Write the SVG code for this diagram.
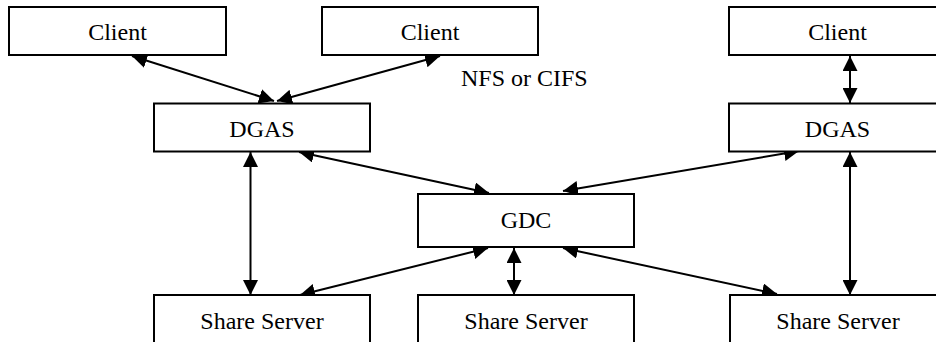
<svg xmlns="http://www.w3.org/2000/svg" width="936" height="342" viewBox="0 0 936 342">
  <style>
    .box { fill: #fff; stroke: #000; stroke-width: 2; }
    .lbl { font-family: "Liberation Serif", "Times New Roman", serif; font-size: 24px; fill: #000; text-anchor: middle; }
    .note { font-family: "Liberation Serif", "Times New Roman", serif; font-size: 24px; fill: #000; }
    .link { stroke: #000; stroke-width: 2; fill: none; marker-start: url(#head); marker-end: url(#head); }
  </style>
  <defs>
    <marker id="head" markerUnits="userSpaceOnUse" markerWidth="15" markerHeight="15" viewBox="0 0 15 15" refX="15" refY="7.5" orient="auto-start-reverse">
      <path d="M0,0 L15,7.5 L0,15 z" fill="#000"/>
    </marker>
  </defs>
  <rect width="936" height="342" fill="#fff"/>

  <g id="connectors">
    <line class="link" x1="132" y1="56" x2="274" y2="101"/>
    <line class="link" x1="440" y1="56" x2="277" y2="101"/>
    <line class="link" x1="850" y1="56" x2="850" y2="103"/>
    <line class="link" x1="250.5" y1="152" x2="250.5" y2="295"/>
    <line class="link" x1="299" y1="152" x2="489" y2="193"/>
    <line class="link" x1="799" y1="151" x2="563" y2="191"/>
    <line class="link" x1="850" y1="152" x2="850" y2="295"/>
    <line class="link" x1="488" y1="248" x2="300" y2="295"/>
    <line class="link" x1="514" y1="248" x2="514" y2="295"/>
    <line class="link" x1="563" y1="248" x2="777" y2="294"/>
  </g>

  <g id="client-1">
    <rect class="box" x="9" y="7" width="217" height="48"/>
    <text class="lbl" x="117.5" y="40">Client</text>
  </g>
  <g id="client-2">
    <rect class="box" x="322" y="7" width="216" height="48"/>
    <text class="lbl" x="430" y="40">Client</text>
  </g>
  <g id="client-3">
    <rect class="box" x="729" y="7" width="217" height="48"/>
    <text class="lbl" x="837.5" y="40">Client</text>
  </g>

  <text class="note" x="461" y="86">NFS or CIFS</text>

  <g id="dgas-1">
    <rect class="box" x="154" y="103.5" width="216" height="48"/>
    <text class="lbl" x="262" y="136.5">DGAS</text>
  </g>
  <g id="dgas-2">
    <rect class="box" x="729" y="103.5" width="217" height="48"/>
    <text class="lbl" x="837.5" y="136.5">DGAS</text>
  </g>

  <g id="gdc">
    <rect class="box" x="418" y="194" width="216" height="53"/>
    <text class="lbl" x="526" y="227.5">GDC</text>
  </g>

  <g id="share-server-1">
    <rect class="box" x="154" y="295" width="216" height="60"/>
    <text class="lbl" x="262" y="328.5">Share Server</text>
  </g>
  <g id="share-server-2">
    <rect class="box" x="418" y="295" width="216" height="60"/>
    <text class="lbl" x="526" y="328.5">Share Server</text>
  </g>
  <g id="share-server-3">
    <rect class="box" x="730" y="295" width="216" height="60"/>
    <text class="lbl" x="838" y="328.5">Share Server</text>
  </g>
</svg>
